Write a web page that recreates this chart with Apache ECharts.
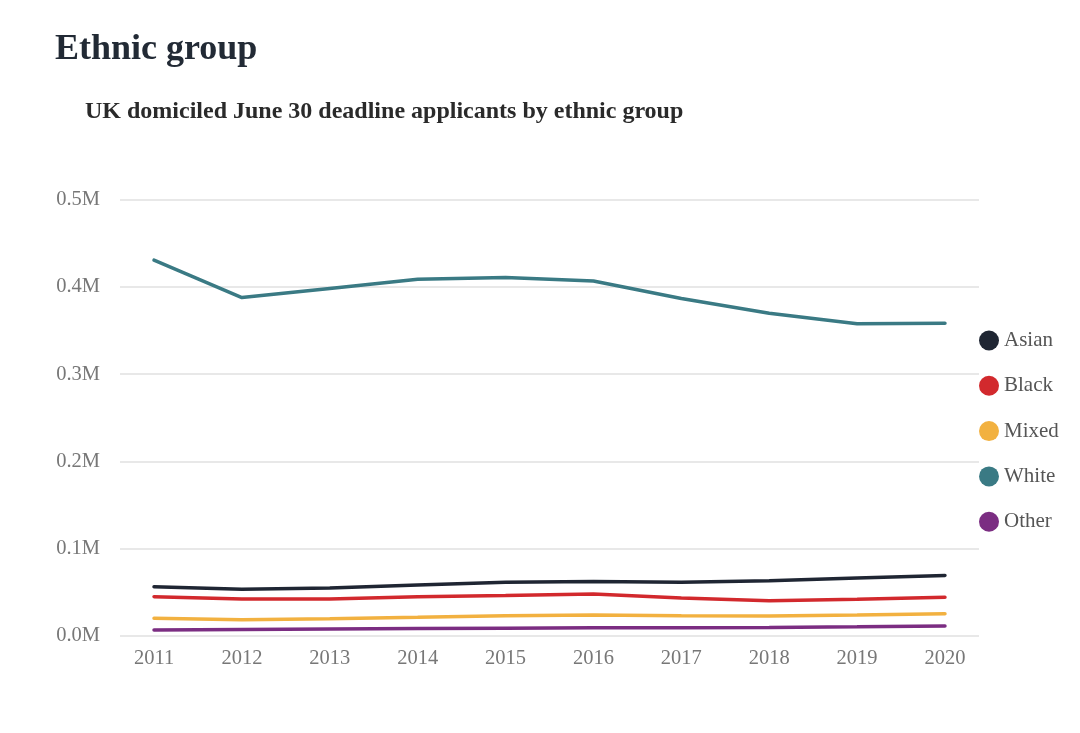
<!DOCTYPE html>
<html>
<head>
<meta charset="utf-8">
<script src="https://cdn.jsdelivr.net/npm/echarts@6/dist/echarts.min.js"></script>
<style>
html,body{margin:0;padding:0;background:#fff;}
#chart{width:1080px;height:733px;}
</style>
</head>
<body>
<div id="chart"></div>
<script>
const years = [2011, 2012, 2013, 2014, 2015, 2016, 2017, 2018, 2019, 2020];
const asian = [56000, 53000, 54500, 58000, 61000, 62000, 61000, 63000, 66000, 69000];
const black = [44600, 42000, 42000, 44600, 46000, 47700, 43000, 40000, 41600, 44000];
const mixed = [19800, 18000, 19300, 21000, 22800, 23600, 22800, 22400, 23600, 25000];
const white = [431000, 388000, 398500, 409000, 411000, 407000, 387000, 370000, 358000, 358500];
const other = [6300, 7000, 7500, 8000, 8400, 8800, 8800, 9200, 10000, 11000];
const yTicks = [0, 100000, 200000, 300000, 400000, 500000];

const seriesDefs = [
  {name: 'Asian', data: asian, color: '#1f2633'},
  {name: 'Black', data: black, color: '#d2292d'},
  {name: 'Mixed', data: mixed, color: '#f2b140'},
  {name: 'White', data: white, color: '#3a7a84'},
  {name: 'Other', data: other, color: '#7b2d82'}
];

const font = '"Liberation Serif", "DejaVu Serif", serif';
const chart = echarts.init(document.getElementById('chart'));
chart.setOption({
  backgroundColor: '#ffffff',
  animation: false,
  title: [
    {text: 'Ethnic group', left: 50, top: 27, textStyle: {fontFamily: font, fontSize: 36, fontWeight: 'bold', color: '#222a35'}},
    {text: 'UK domiciled June 30 deadline applicants by ethnic group', left: 80, top: 95, textStyle: {fontFamily: font, fontSize: 24, fontWeight: 'bold', color: '#2a2a2a'}}
  ],
  legend: {
    orient: 'vertical',
    left: 979,
    top: 330,
    padding: 0,
    icon: 'circle',
    itemWidth: 20,
    itemHeight: 20,
    itemGap: 24.3,
    textStyle: {fontFamily: font, fontSize: 21, color: '#555', lineHeight: 20},
    data: seriesDefs.map(s => s.name)
  },
  grid: {left: 120, right: 101, top: 200, bottom: 97.5, containLabel: false},
  xAxis: {
    type: 'value',
    min: 2010.613,
    max: 2020.387,
    axisLine: {show: false},
    axisTick: {show: false},
    splitLine: {show: false},
    axisLabel: {
      customValues: years,
      fontFamily: font, fontSize: 20.5, color: '#777', margin: 13,
      formatter: v => String(Math.round(v))
    }
  },
  yAxis: {
    type: 'value',
    min: yTicks[0],
    max: yTicks[yTicks.length - 1],
    interval: 100000,
    axisLine: {show: false},
    axisTick: {show: false},
    splitLine: {lineStyle: {color: '#e8e8e8', width: 2}},
    axisLabel: {
      fontFamily: font, fontSize: 20.5, color: '#777', margin: 20,
      formatter: v => (v / 1e6).toFixed(1) + 'M'
    }
  },
  series: seriesDefs.map(s => ({
    name: s.name,
    type: 'line',
    data: s.data.map((v, i) => [years[i], v]),
    color: s.color,
    symbol: 'none',
    lineStyle: {width: 3.5, color: s.color, cap: 'round'},
    itemStyle: {color: s.color}
  }))
});
</script>
</body>
</html>
